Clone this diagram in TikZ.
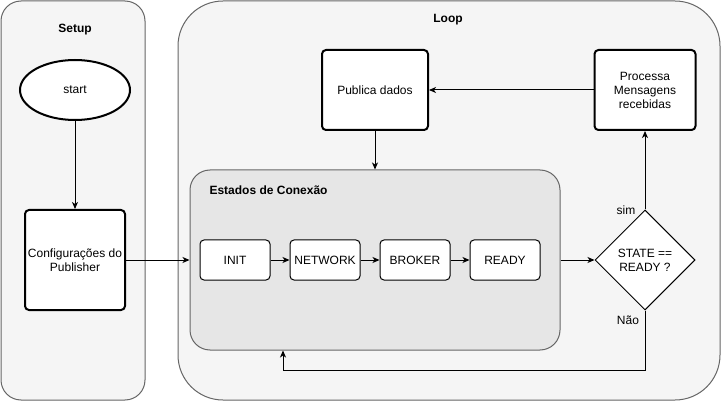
\documentclass[tikz,border=0pt]{standalone}
\usepackage{fontspec}
\setmainfont{Liberation Sans}
\usetikzlibrary{shapes.geometric,arrows.meta}
\definecolor{contfill}{HTML}{F5F5F5}
\definecolor{groupfill}{HTML}{E6E6E6}
\definecolor{contline}{HTML}{666666}
\tikzset{
  every node/.style={font=\fontsize{12}{14}\selectfont},
  cont/.style={draw=contline, fill=contfill, line width=1pt},
  title/.style={font=\fontsize{12}{14}\selectfont\bfseries},
  bigbox/.style={draw, fill=white, line width=2pt, rounded corners=4pt, align=center,
    inner sep=0pt, minimum width=#1, minimum height=80pt},
  statebox/.style={draw, fill=white, line width=1pt, rounded corners=4pt,
    inner sep=0pt, minimum width=70pt, minimum height=40pt},
  arr/.style={line width=1pt, -{Stealth[length=7pt,width=6pt,inset=2pt]}}
}
\begin{document}
\begin{tikzpicture}[x=1pt, y=-1pt]
\useasboundingbox (0,0) rectangle (721,401);
% containers
\draw[cont, rounded corners=20pt] (1,1) rectangle (145,400);
\draw[cont, rounded corners=45pt] (178,1) rectangle (720,400);
\node[title] (setup) at (75,30) {Setup};
\node[title] (loop) at (448,20) {Loop};
% setup
\node[draw, ellipse, fill=white, line width=2pt, inner sep=0pt,
  minimum width=110pt, minimum height=60pt] (start) at (75,90) {start};
\node[bigbox=100pt, minimum height=100pt] (config) at (75,260) {Configurações do\\Publisher};
% loop
\node[bigbox=106pt] (publica) at (375,90) {Publica dados};
\node[bigbox=101pt] (processa) at (645,90) {Processa\\Mensagens\\recebidas};
\node[draw=contline, fill=groupfill, line width=1pt, rounded corners=20pt, inner sep=0pt,
  minimum width=370pt, minimum height=180pt] (estados) at (375,260) {};
\node[title, anchor=west] (estlabel) at (206,190) {Estados de Conexão};
\node[statebox] (init) at (235,260) {INIT};
\node[statebox] (network) at (325,260) {NETWORK};
\node[statebox] (broker) at (415,260) {BROKER};
\node[statebox] (ready) at (505,260) {READY};
\node[draw, diamond, fill=white, line width=1pt, inner sep=0pt, aspect=1,
  minimum width=100pt, minimum height=100pt, align=center] (cond) at (645,260) {STATE ==\\READY ?};
\node (sim) at (626,210) {sim};
\node (nao) at (628,320) {Não};
\coordinate (back) at (283,370);
% connectors
\draw[arr] (start) -- (config);
\draw[arr] (config) -- (estados.west |- config);
\draw[arr] (init) -- (network);
\draw[arr] (network) -- (broker);
\draw[arr] (broker) -- (ready);
\draw[arr] (estados.east |- cond) -- (cond);
\draw[arr] (cond.north) -- (processa);
\draw[arr] (processa) -- (publica);
\draw[arr] (publica) -- (publica |- estados.north);
\draw[arr] (cond.south) |- (back) -- (back |- estados.south);
\end{tikzpicture}
\end{document}
